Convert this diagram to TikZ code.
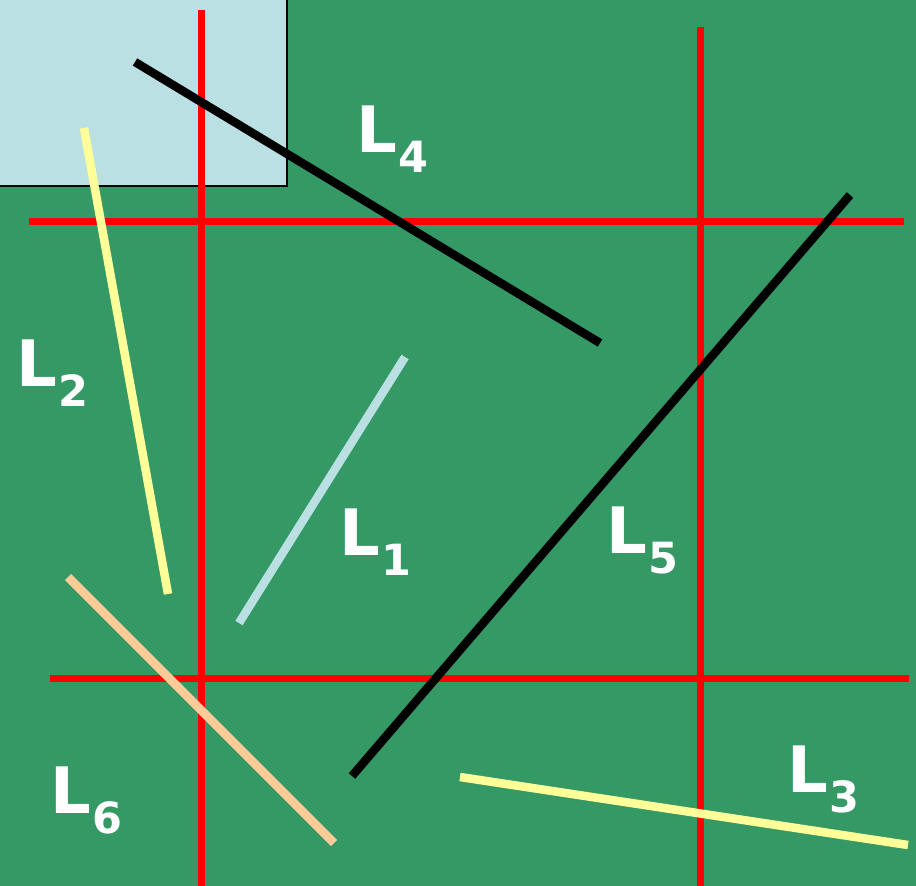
\documentclass[tikz,border=0pt]{standalone}
\usepackage{fontspec}
\setmainfont{DejaVu Sans}
\definecolor{fieldgreen}{HTML}{359966}
\definecolor{paleblue}{HTML}{BBE0E3}
\definecolor{paleyellow}{HTML}{FFFF99}
\definecolor{peach}{HTML}{FFCC99}
\newcommand{\seglabel}[1]{\fontsize{64}{64}\selectfont\bfseries L\kern2pt\raisebox{-20pt}{\fontsize{43}{43}\selectfont #1}}
\tikzset{
  gridline/.style={draw=red, line width=7pt},
  segment/.style={line width=8.5pt},
  lbl/.style={anchor=base west, inner sep=0pt, text=white}
}
\begin{document}
\begin{tikzpicture}[x=1pt, y=-1pt]
	 \fill[fieldgreen] (0,0) rectangle (916,886);
	 \useasboundingbox (0,0) rectangle (916,886);
	 \filldraw[fill=paleblue, draw=black, line width=1.5pt] (-3,-3) rectangle (287,186);

	 % grid
	 \draw[gridline] (201,10) -- (201,886);
	 \draw[gridline] (700,27) -- (700,886);
	 \draw[gridline] (29,221) -- (904,221);
	 \draw[gridline] (50,678) -- (909,678);

	 % segment end points
	 \coordinate (a1) at (405,357);  \coordinate (b1) at (239,623);
	 \coordinate (a2) at (84,128);   \coordinate (b2) at (168,594);
	 \coordinate (a3) at (460,777);  \coordinate (b3) at (908,845);
	 \coordinate (a4) at (135,62);   \coordinate (b4) at (600,343);
	 \coordinate (a5) at (850,195);  \coordinate (b5) at (352,776);
	 \coordinate (a6) at (68,577);   \coordinate (b6) at (334,843);

	 \draw[segment, paleyellow] (a2) -- (b2);
	 \draw[segment, paleblue] (a1) -- (b1);
	 \draw[segment, peach] (a6) -- (b6);
	 \draw[segment, paleyellow] (a3) -- (b3);
	 \draw[segment, black] (a4) -- (b4);
	 \draw[segment, black] (a5) -- (b5);

	 % labels
	 \node[lbl] (l1) at (339,555) {\seglabel{1}};
	 \node[lbl] (l2) at (16,386) {\seglabel{2}};
	 \node[lbl] (l3) at (787,792) {\seglabel{3}};
	 \node[lbl] (l4) at (356,152) {\seglabel{4}};
	 \node[lbl] (l5) at (606,553) {\seglabel{5}};
	 \node[lbl] (l6) at (50,813) {\seglabel{6}};
\end{tikzpicture}
\end{document}
